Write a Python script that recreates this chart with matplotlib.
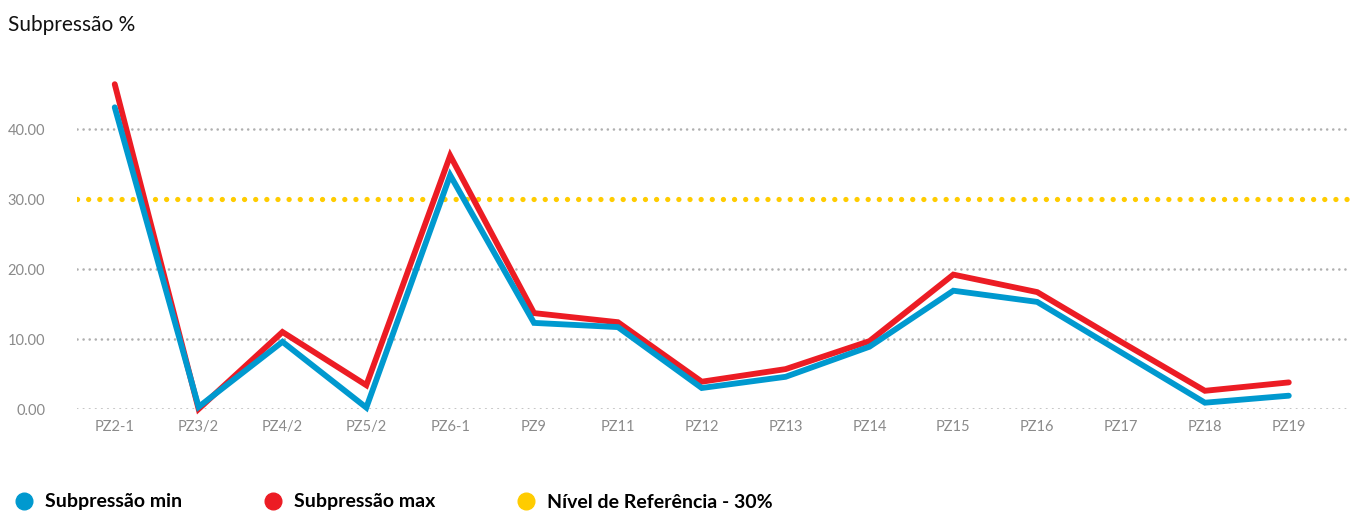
import matplotlib
matplotlib.use("Agg")
import matplotlib.pyplot as plt
from matplotlib.lines import Line2D

# data
categories = ["PZ2-1", "PZ3/2", "PZ4/2", "PZ5/2", "PZ6-1", "PZ9", "PZ11", "PZ12",
              "PZ13", "PZ14", "PZ15", "PZ16", "PZ17", "PZ18", "PZ19"]
sub_min = [43.1, 0.3, 9.6, 0.2, 33.4, 12.3, 11.7, 3.0, 4.6, 8.9, 16.9, 15.3, 8.1, 0.9, 1.9]
sub_max = [46.4, 0.0, 11.0, 3.4, 36.2, 13.7, 12.4, 3.9, 5.7, 9.7, 19.2, 16.7, 9.6, 2.6, 3.8]
ref_level = 30
y_ticks = [0, 10, 20, 30, 40]

BLUE = "#0099CF"
RED = "#EC1C24"
YELLOW = "#FFCC00"
GRAY = "#8a8a8a"

plt.rcParams["font.family"] = ["Lato", "DejaVu Sans"]

W, H = 1354, 511
fig = plt.figure(figsize=(W / 100, H / 100), dpi=100)
ax = fig.add_axes([77 / W, (H - 409) / H, (1350 - 77) / W, (409 - 73) / H])

x = list(range(len(categories)))
ax.set_xlim(-0.45, len(categories) - 1 + 0.73)
ax.set_ylim(0, 48)

# grid (dotted gray), hidden where the reference line sits
for t in y_ticks:
    if t == ref_level:
        continue
    ax.axhline(t, color="#b0b0b0", lw=1.9, linestyle=(0, (0.01, 2.3)),
               dash_capstyle="round", zorder=1)

ax.axhline(ref_level, color=YELLOW, lw=3.8, linestyle=(0, (0.01, 2.1)),
           dash_capstyle="round", zorder=2)

ax.plot(x, sub_max, color=RED, lw=4.2, solid_joinstyle="miter",
        solid_capstyle="round", clip_on=False, zorder=3)
ax.plot(x, sub_min, color=BLUE, lw=4.2, solid_joinstyle="miter",
        solid_capstyle="round", clip_on=False, zorder=4)

ax.set_xticks(x)
ax.set_xticklabels(categories, color=GRAY, fontsize=10.5)
ax.set_yticks(y_ticks)
ax.set_yticklabels([f"{t:.2f}" for t in y_ticks], color=GRAY, fontsize=10.5)
ax.tick_params(axis="both", length=0)
ax.tick_params(axis="x", pad=8)
ax.tick_params(axis="y", pad=23)
for s in ax.spines.values():
    s.set_visible(False)

fig.text(8 / W, 1 - 25 / H, "Subpressão %", fontsize=15, color="#111111",
         va="center", ha="left")

handles = [
    Line2D([], [], marker="o", ls="none", color=BLUE, markersize=12),
    Line2D([], [], marker="o", ls="none", color=RED, markersize=12),
    Line2D([], [], marker="o", ls="none", color=YELLOW, markersize=12),
]
labels = ["Subpressão min", "Subpressão max", "Nível de Referência - 30%"]
fig.legend(handles, labels, loc="center left", bbox_to_anchor=(14 / W, 1 - 502 / H),
           ncol=3, frameon=False, handletextpad=0.6, columnspacing=4.15,
           handlelength=1.0, borderaxespad=0, borderpad=0,
           prop={"weight": "bold", "size": 14})

fig.savefig("out.png", dpi=100)
